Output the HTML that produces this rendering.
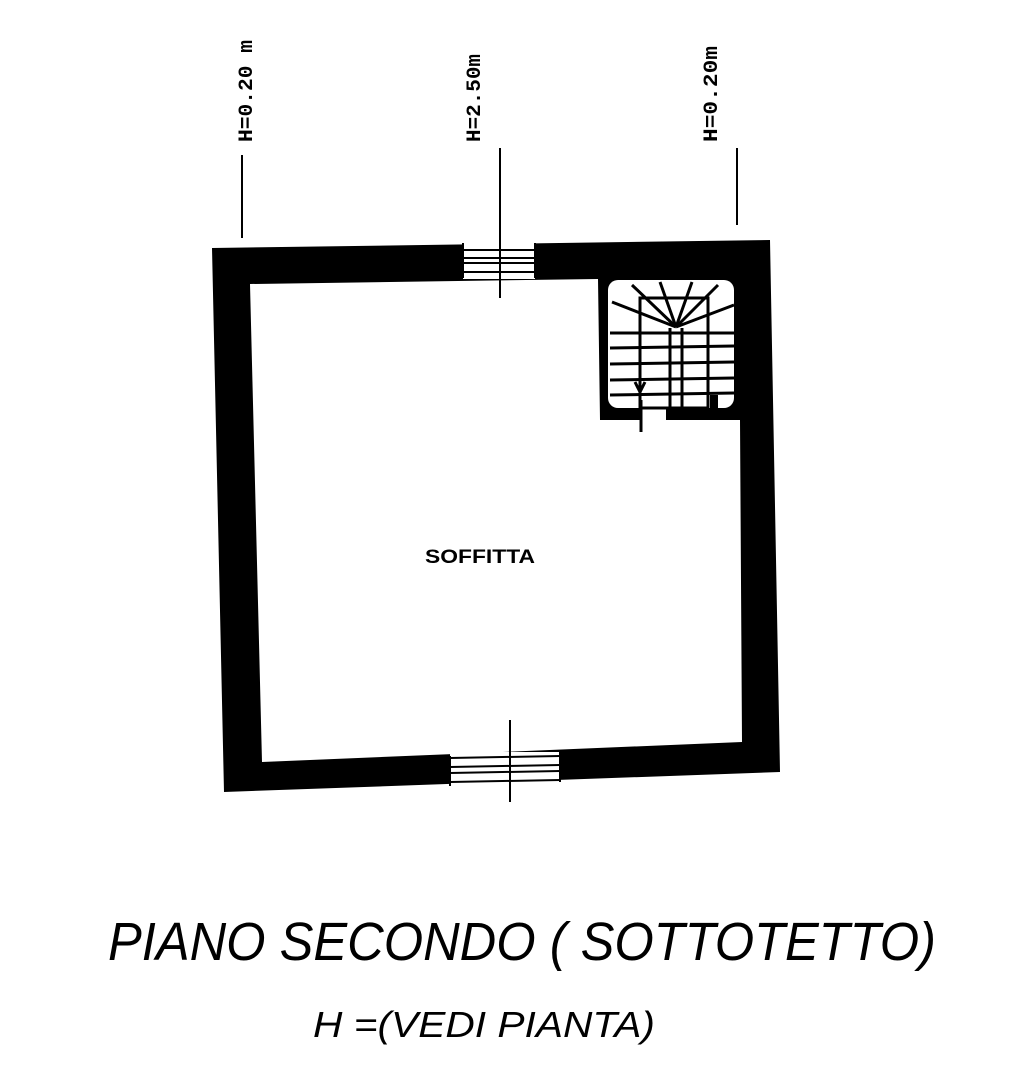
<!DOCTYPE html>
<html><head><meta charset="utf-8"><style>html,body{margin:0;padding:0;background:#fff}svg{display:block}</style></head>
<body>
<svg width="1030" height="1080" viewBox="0 0 1030 1080" xmlns="http://www.w3.org/2000/svg">
<rect width="1030" height="1080" fill="#fff"/>
<path fill-rule="evenodd" fill="#000" d="M212,248 L770,240 L780,772 L224,792 Z
 M250,284 L598,279 L600,420 L740,420 L742,742 L262,762 Z"/>
<rect x="608" y="280" width="126" height="128" rx="10" fill="#fff"/>
<rect x="640" y="408" width="26" height="12" fill="#fff"/>
<g stroke="#000" stroke-width="3" fill="none">
<rect x="640" y="298" width="68" height="110"/>
<line x1="670" y1="328" x2="670" y2="412"/><line x1="682" y1="328" x2="682" y2="412"/>
<line x1="612" y1="302" x2="676" y2="327"/><line x1="632" y1="285" x2="676" y2="327"/>
<line x1="660" y1="282" x2="676" y2="327"/><line x1="692" y1="282" x2="676" y2="327"/>
<line x1="718" y1="285" x2="676" y2="327"/><line x1="734" y1="305" x2="676" y2="327"/>
<line x1="610" y1="333" x2="734" y2="333"/><line x1="610" y1="348" x2="734" y2="346"/>
<line x1="610" y1="364" x2="734" y2="362"/><line x1="610" y1="380" x2="734" y2="378"/>
<line x1="610" y1="395" x2="734" y2="393"/>
<line x1="635" y1="382" x2="640" y2="392"/><line x1="645" y1="382" x2="640" y2="392"/>
<line x1="641" y1="400" x2="641" y2="432"/>
</g>
<rect x="710" y="395" width="8" height="15" fill="#000"/>
<rect x="463" y="243" width="72" height="36" fill="#fff"/>
<g stroke="#000" stroke-width="2">
<line x1="463" y1="250" x2="535" y2="250"/><line x1="463" y1="258" x2="535" y2="258"/>
<line x1="463" y1="263" x2="535" y2="263"/><line x1="463" y1="272" x2="535" y2="272"/>
<line x1="463" y1="243" x2="463" y2="278"/><line x1="535" y1="243" x2="535" y2="278"/>
</g>
<rect x="450" y="752" width="110" height="36" fill="#fff"/>
<g stroke="#000" stroke-width="2">
<line x1="450" y1="758" x2="560" y2="756"/><line x1="450" y1="767" x2="560" y2="765"/>
<line x1="450" y1="773" x2="560" y2="771"/><line x1="450" y1="782" x2="560" y2="780"/>
<line x1="450" y1="756" x2="450" y2="786"/><line x1="560" y1="752" x2="560" y2="782"/>
</g>
<g stroke="#000" stroke-width="2">
<line x1="242" y1="155" x2="242" y2="238"/>
<line x1="500" y1="148" x2="500" y2="298"/>
<line x1="737" y1="148" x2="737" y2="225"/>
<line x1="510" y1="720" x2="510" y2="802"/>
</g>
<g font-family="Liberation Mono, monospace" font-weight="bold" font-size="20" fill="#000">
<text transform="translate(252,142) rotate(-90)" textLength="102" lengthAdjust="spacingAndGlyphs">H=0.20 m</text>
<text transform="translate(480,142) rotate(-90)" textLength="88" lengthAdjust="spacingAndGlyphs">H=2.50m</text>
<text transform="translate(717,142) rotate(-90)" textLength="96" lengthAdjust="spacingAndGlyphs">H=0.20m</text>
</g>
<text x="425" y="563" font-family="Liberation Sans, sans-serif" font-weight="bold" font-size="19" textLength="110" lengthAdjust="spacingAndGlyphs">SOFFITTA</text>
<text x="108" y="960" font-family="Liberation Sans, sans-serif" font-style="italic" font-size="54" textLength="828" lengthAdjust="spacingAndGlyphs">PIANO SECONDO ( SOTTOTETTO)</text>
<text x="313" y="1037" font-family="Liberation Sans, sans-serif" font-style="italic" font-size="36" textLength="342" lengthAdjust="spacingAndGlyphs">H =(VEDI PIANTA)</text>
</svg>
</body></html>
